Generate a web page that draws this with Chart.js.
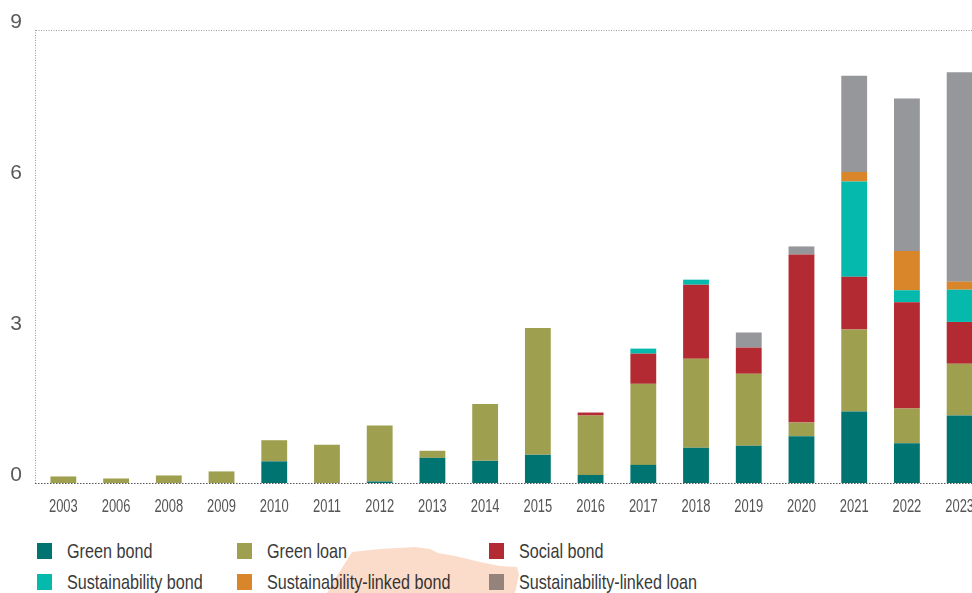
<!DOCTYPE html>
<html>
<head>
<meta charset="utf-8">
<script src="https://cdn.jsdelivr.net/npm/chart.js@4/dist/chart.umd.min.js"></script>
<style>
  body { margin: 0; background: #fff; }
  #wrap { position: relative; width: 972px; height: 593px; overflow: hidden; }
  #myChart { position: absolute; left: 0; top: 0; }
  .legend { position: absolute; font-family: 'Liberation Sans', Arial, sans-serif; font-size: 21px; color: #3a3a3a; }
  .legend .box { position: absolute; width: 15px; height: 16px; }
  .legend .txt { position: absolute; white-space: nowrap; line-height: 24px; transform: scaleX(0.77); transform-origin: 0 50%; }
  #blob { position: absolute; left: 0; top: 0; width: 972px; height: 593px; background: #fbdccb; mix-blend-mode: multiply;
    clip-path: polygon(347px 560px, 352px 552px, 380px 549px, 415px 547px, 430px 549px, 438px 553px, 455px 556px, 480px 562px, 500px 566px, 517px 567px, 519px 575px, 515px 593px, 327px 593px, 333px 582px); }
</style>
</head>
<body>
<div id="wrap">
  <canvas id="myChart" width="990" height="520"></canvas>
  <div id="legend"></div>
  <div id="blob"></div>
</div>
<script>
// anos e valores
const years = ['2003', '2006', '2008', '2009', '2010', '2011', '2012', '2013', '2014', '2015',
  '2016', '2017', '2018', '2019', '2020', '2021', '2022', '2023'];

const greenBond = [0, 0, 0, 0, 0.43, 0, 0.03, 0.50, 0.44, 0.56, 0.16, 0.36, 0.70, 0.74, 0.93, 1.42, 0.79, 1.34];
const greenLoan = [0.13, 0.09, 0.15, 0.23, 0.42, 0.76, 1.11, 0.14, 1.13, 2.52, 1.18, 1.61, 1.77, 1.43, 0.27, 1.63, 0.69, 1.03];
const socialBond = [0, 0, 0, 0, 0, 0, 0, 0, 0, 0, 0.06, 0.60, 1.47, 0.52, 3.34, 1.05, 2.11, 0.83];
const sustainabilityBond = [0, 0, 0, 0, 0, 0, 0, 0, 0, 0, 0, 0.10, 0.10, 0, 0, 1.89, 0.24, 0.64];
const sustLinkedBond = [0, 0, 0, 0, 0, 0, 0, 0, 0, 0, 0, 0, 0, 0, 0, 0.19, 0.78, 0.16];
const sustLinkedLoan = [0, 0, 0, 0, 0, 0, 0, 0, 0, 0, 0, 0, 0, 0.30, 0.16, 1.91, 3.03, 4.16];

const yTicks = [0, 3, 6, 9];

const series = [
  { label: 'Green bond', data: greenBond, color: '#007470' },
  { label: 'Green loan', data: greenLoan, color: '#9fa04f' },
  { label: 'Social bond', data: socialBond, color: '#b42a32' },
  { label: 'Sustainability bond', data: sustainabilityBond, color: '#05b9ad' },
  { label: 'Sustainability-linked bond', data: sustLinkedBond, color: '#d9852a' },
  { label: 'Sustainability-linked loan', data: sustLinkedLoan, color: '#96979b' }
];

const font = "'Liberation Sans', Arial, sans-serif";

// linhas pontilhadas em volta da área do gráfico
const frame = {
  id: 'frame',
  beforeDatasetsDraw(chart) {
    const { ctx, chartArea: a } = chart;
    ctx.save();
    ctx.lineWidth = 1;
    ctx.setLineDash([1, 1.5]);
    ctx.strokeStyle = '#9a9a9a';
    ctx.beginPath();
    ctx.moveTo(a.left - 1, a.top + 0.5);
    ctx.lineTo(a.right + 10, a.top + 0.5);
    ctx.moveTo(a.left - 1.5, a.top);
    ctx.lineTo(a.left - 1.5, a.bottom);
    ctx.stroke();
    ctx.setLineDash([1.5, 1.5]);
    ctx.strokeStyle = '#555';
    ctx.beginPath();
    ctx.moveTo(a.left - 2, a.bottom + 0.5);
    ctx.lineTo(a.right + 10, a.bottom + 0.5);
    ctx.stroke();
    ctx.restore();
  }
};

// rótulos do eixo x em fonte estreita (achatada na horizontal)
const narrowTicks = {
  id: 'narrowTicks',
  afterDraw(chart) {
    const { ctx, chartArea: a } = chart;
    const xs = chart.scales.x;
    ctx.save();
    ctx.fillStyle = '#555';
    ctx.font = '18px ' + font;
    ctx.textAlign = 'center';
    ctx.textBaseline = 'middle';
    xs.ticks.forEach((t, i) => {
      const x = xs.getPixelForTick(i);
      ctx.save();
      ctx.translate(x, a.bottom + 24);
      ctx.scale(0.72, 1);
      ctx.fillText(xs.getLabelForValue(t.value), 0, 0);
      ctx.restore();
    });
    ctx.restore();
  }
};

var ctx = document.getElementById('myChart').getContext('2d');
var chart = new Chart(ctx, {
  type: 'bar',
  data: {
    labels: years,
    datasets: series.map(s => ({
      label: s.label,
      data: s.data,
      backgroundColor: s.color,
      borderWidth: 0,
      barPercentage: 0.49,
      categoryPercentage: 1
    }))
  },
  options: {
    responsive: false,
    animation: false,
    layout: { padding: { top: 30, right: 4, left: 0, bottom: 0 } },
    plugins: { legend: { display: false }, tooltip: { enabled: false } },
    scales: {
      x: {
        stacked: true,
        grid: { display: false, drawTicks: false },
        border: { display: false },
        ticks: { display: false, autoSkip: false },
        afterFit: s => { s.height = 37; }
      },
      y: {
        stacked: true,
        min: 0,
        max: 9,
        afterBuildTicks: s => { s.ticks = yTicks.map(v => ({ value: v })); },
        grid: { display: false, drawTicks: false },
        border: { display: false },
        ticks: { color: '#5a5a5a', font: { family: font, size: 21 }, padding: 15, labelOffset: -8 },
        afterFit: s => { s.width = 37; }
      }
    }
  },
  plugins: [frame, narrowTicks]
});

// legenda em html, três colunas
const legend = document.getElementById('legend');
const colX = [37, 237, 489];
const rowY = [543, 574];
series.forEach((s, i) => {
  const col = i % 3, row = Math.floor(i / 3);
  const item = document.createElement('div');
  item.className = 'legend';
  item.style.left = colX[col] + 'px';
  item.style.top = rowY[row] + 'px';
  item.innerHTML = '<div class="box" style="left:0;top:0;background:' + s.color + '"></div>' +
    '<div class="txt" style="left:30px;top:-4px">' + s.label + '</div>';
  legend.appendChild(item);
});
</script>
</body>
</html>
